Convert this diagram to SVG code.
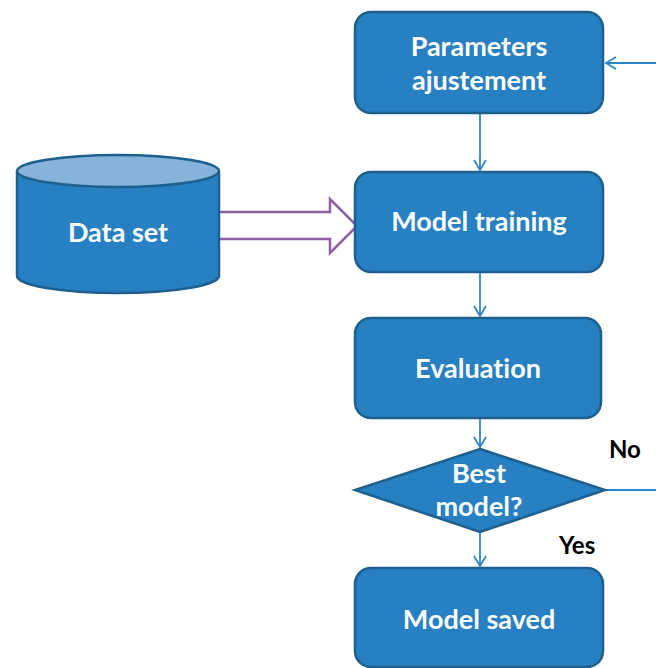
<svg xmlns="http://www.w3.org/2000/svg" width="656" height="668" viewBox="0 0 656 668">
<style>
.box{fill:#2680C2;stroke:#1E5F8E;stroke-width:2.5}
.t{font-family:Lato,"Open Sans",sans-serif;font-weight:bold;fill:#fff;font-size:27px;text-anchor:middle;font-variant-ligatures:none}
.lbl{font-family:Lato,"Open Sans",sans-serif;font-weight:bold;fill:#000;font-size:24px}
.c{stroke:#2E86C6;stroke-width:1.8;fill:none}
</style>
<defs>
<marker id="a" markerWidth="14" markerHeight="14" refX="12" refY="7" orient="auto" markerUnits="userSpaceOnUse">
<path d="M2,1 L12,7 L2,13" fill="none" stroke="#2E86C6" stroke-width="1.8"/>
</marker>
</defs>
<g id="connectors">
<line class="c" x1="480" y1="114" x2="480" y2="170" marker-end="url(#a)"/>
<line class="c" x1="480" y1="273" x2="480" y2="316" marker-end="url(#a)"/>
<line class="c" x1="480" y1="419" x2="480" y2="447" marker-end="url(#a)"/>
<line class="c" x1="480" y1="533" x2="480" y2="566" marker-end="url(#a)"/>
<line class="c" x1="606" y1="490" x2="656" y2="490"/>
<line class="c" x1="656" y1="63" x2="606" y2="63" marker-end="url(#a)"/>
<path d="M218,212 H330 V199 L357,226 L330,253 V239 H218" fill="#fff" stroke="#8E5EA8" stroke-width="2.5"/>
<text class="lbl" x="609" y="458">No</text>
<text class="lbl" x="559" y="554">Yes</text>
</g>
<g id="dataset">
<path class="box" d="M17,171 V276 A101,17 0 0 0 219,276 V171"/>
<ellipse cx="118" cy="171" rx="101" ry="16" fill="#86B3DA" stroke="#1E5F8E" stroke-width="2.5"/>
<text class="t" x="118" y="242">Data set</text>
</g>
<g id="params">
<rect class="box" x="355" y="12" width="248" height="101" rx="16"/>
<text class="t" x="479" y="56">Parameters</text>
<text class="t" x="479" y="90">ajustement</text>
</g>
<g id="training">
<rect class="box" x="355" y="172" width="248" height="100" rx="16"/>
<text class="t" x="479" y="231">Model training</text>
</g>
<g id="evaluation">
<rect class="box" x="355" y="318" width="246" height="100" rx="16"/>
<text class="t" x="478" y="378">Evaluation</text>
</g>
<g id="decision">
<polygon class="box" points="480,449 605,490 480,532 355,490"/>
<text class="t" x="479" y="483">Best</text>
<text class="t" x="479" y="516">model?</text>
</g>
<g id="saved">
<rect class="box" x="355" y="568" width="248" height="99" rx="16"/>
<text class="t" x="479" y="629">Model saved</text>
</g>
</svg>
